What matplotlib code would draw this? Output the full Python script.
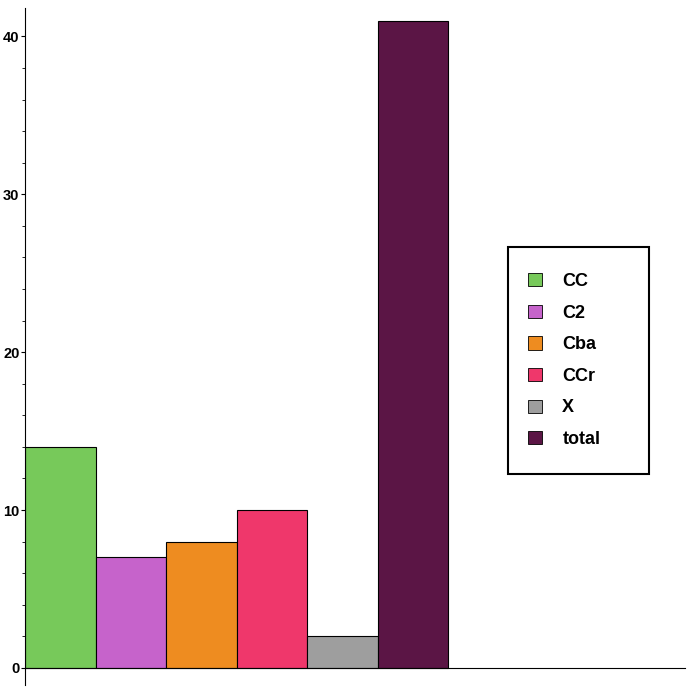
import numpy as np
import matplotlib.pyplot as plt
from matplotlib.patches import Patch, Rectangle

plt.rcParams['font.family'] = ['Liberation Sans', 'DejaVu Sans']

# Données
categories = ['CC', 'C2', 'Cba', 'CCr', 'X', 'total']
values = [14, 7, 8, 10, 2, 41]
colors = ['#77C95A', '#C663CB', '#EE8C20', '#EF376B', '#9E9E9E', '#5B1545']

fig = plt.figure(figsize=(6.9, 6.9), dpi=100)
ax = fig.add_axes([25/690, 5/690, 660/690, 677/690])

x = np.arange(len(categories)) + 0.5
ax.bar(x, values, width=1.0, color=colors, edgecolor='black', linewidth=0.8)

ax.set_xlim(0, 9.36)
ax.set_ylim(-1.08, 41.8)
ax.spines['top'].set_visible(False)
ax.spines['right'].set_visible(False)
ax.spines['bottom'].set_position(('data', 0))
ax.set_xticks([])
ax.set_yticks([0, 10, 20, 30, 40])
ax.set_yticks(np.arange(0, 42, 2), minor=True)
ax.tick_params(axis='y', which='major', length=3, pad=1, labelsize=10.5)
ax.tick_params(axis='y', which='minor', length=2)
for lab in ax.get_yticklabels():
    lab.set_fontweight('bold')

# cadre de la légende
fig.patches.append(Rectangle((508/690, 1 - 474/690), 141/690, 227/690,
                             transform=fig.transFigure, fill=False,
                             edgecolor='black', linewidth=1.5))

handles = [Patch(facecolor=c, edgecolor='black', linewidth=0.6) for c in colors]
leg = ax.legend(handles, categories, loc='upper left',
                bbox_to_anchor=(528/690, 1 - 273/690), bbox_transform=fig.transFigure,
                fontsize=13, frameon=False, borderpad=0,
                labelspacing=0.81, handlelength=0.75, handleheight=0.75,
                handletextpad=1.15, borderaxespad=0)
for t in leg.get_texts():
    t.set_fontweight('bold')

plt.savefig('out.png', dpi=100)
